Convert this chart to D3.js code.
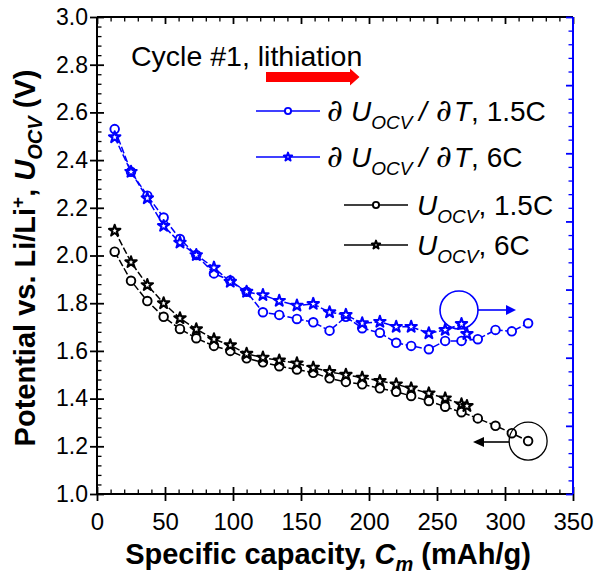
<!DOCTYPE html>
<html><head><meta charset="utf-8">
<script src="https://cdn.jsdelivr.net/npm/d3@7"></script>
<style>html,body{margin:0;padding:0;background:#fff;}svg{display:block;}</style>
</head><body>
<svg id="chart" width="596" height="578"></svg>
<script>
// ---- data ----
const capacity15 = [13,25,37,49,61,73,86,98,110,122,134,147,159,171,183,195,208,220,231,244,256,268,280,293,305,317];
const capacity6  = [13,25,37,49,61,73,86,98,110,122,134,147,159,171,183,195,208,220,231,244,256,268,272];
const dUdT_15 = [2.530,2.351,2.251,2.159,2.069,2.002,1.925,1.895,1.848,1.762,1.751,1.734,1.720,1.685,1.743,1.695,1.676,1.634,1.621,1.607,1.642,1.642,1.649,1.688,1.682,1.716];
const dUdT_6  = [2.496,2.351,2.240,2.124,2.054,2.002,1.949,1.890,1.848,1.834,1.810,1.790,1.797,1.762,1.751,1.716,1.722,1.701,1.701,1.674,1.688,1.713,1.671];
const Uocv_15 = [2.016,1.894,1.809,1.743,1.692,1.653,1.621,1.600,1.569,1.552,1.536,1.522,1.508,1.485,1.470,1.460,1.443,1.429,1.411,1.390,1.366,1.343,1.317,1.286,1.255,1.222];
const Uocv_6  = [2.104,1.972,1.876,1.800,1.737,1.691,1.649,1.624,1.588,1.572,1.560,1.548,1.530,1.512,1.500,1.488,1.474,1.460,1.443,1.422,1.401,1.376,1.369];
const xTicks = [0,50,100,150,200,250,300,350];
const yTicks = [1.0,1.2,1.4,1.6,1.8,2.0,2.2,2.4,2.6,2.8,3.0];
const legendLabels = ["1.5C","6C","1.5C","6C"];
const noteText = "Cycle #1, lithiation";

const BLUE = "#0000ff", BLACK = "#000000", RED = "#ff0000";
const FONT = "'Liberation Sans', Arial, sans-serif";
const SERIF = "'DejaVu Serif', serif";

const svg = d3.select("#chart");
const L = 97, R = 573, T = 17, B = 494;
const x = d3.scaleLinear().domain([0,350]).range([L,R]);
const y = d3.scaleLinear().domain([1,3]).range([B,T]);
const yR = d3.scaleLinear().domain([0,7]).range([B,T]);

// ---- axes ----
const gx = svg.append("g").attr("transform",`translate(0,${B})`);
gx.call(d3.axisBottom(x).tickValues(d3.range(0,351,10)).tickSize(0).tickFormat(""));
gx.select(".domain").remove();
gx.append("line").attr("x1",L).attr("x2",R).attr("stroke",BLACK).attr("stroke-width",2);
gx.selectAll(".tick").each(function(d){
  const major = d % 50 === 0;
  d3.select(this).append("line").attr("y1", major?7:0).attr("y2", major?-7:-4.5).attr("stroke",BLACK).attr("stroke-width",major?1.8:1.3);
});
const gxl = svg.append("g").attr("transform",`translate(0,${B})`)
  .call(d3.axisBottom(x).tickValues(xTicks).tickSize(0).tickPadding(19));
gxl.select(".domain").remove();
gxl.selectAll("text").attr("font-family",FONT).attr("font-size",24).attr("fill",BLACK);

// top axis
const gt = svg.append("g").attr("transform",`translate(0,${T})`);
gt.call(d3.axisTop(x).tickValues(d3.range(0,351,10)).tickSize(0).tickFormat(""));
gt.select(".domain").remove();
gt.append("line").attr("x1",L).attr("x2",R).attr("stroke",BLACK).attr("stroke-width",1.8);
gt.selectAll(".tick").each(function(d){
  const major = d % 50 === 0;
  d3.select(this).append("line").attr("y1",0).attr("y2", major?7:4.5).attr("stroke",BLACK).attr("stroke-width",major?1.8:1.3);
});

// left axis
const gy = svg.append("g").attr("transform",`translate(${L},0)`);
gy.call(d3.axisLeft(y).tickValues(d3.range(0,51).map(i=>1+i*0.04)).tickSize(0).tickFormat(""));
gy.select(".domain").remove();
gy.append("line").attr("y1",T).attr("y2",B).attr("stroke",BLACK).attr("stroke-width",2);
gy.selectAll(".tick").each(function(d,i){
  const major = i % 5 === 0;
  d3.select(this).append("line").attr("x1", major?-7:0).attr("x2", major?7:4.5).attr("stroke",BLACK).attr("stroke-width",major?1.8:1.3);
});
const gyl = svg.append("g").attr("transform",`translate(${L},0)`)
  .call(d3.axisLeft(y).tickValues(yTicks).tickSize(0).tickPadding(9).tickFormat(d3.format(".1f")));
gyl.select(".domain").remove();
gyl.selectAll("text").attr("font-family",FONT).attr("font-size",23).attr("fill",BLACK);

// right axis (blue)
const gr = svg.append("g").attr("transform",`translate(${R},0)`);
gr.call(d3.axisRight(yR).tickValues(d3.range(0,36).map(i=>i*0.2)).tickSize(0).tickFormat(""));
gr.select(".domain").remove();
gr.append("line").attr("y1",T).attr("y2",B).attr("stroke",BLUE).attr("stroke-width",2);
gr.selectAll(".tick").each(function(d,i){
  const major = i % 5 === 0;
  d3.select(this).append("line").attr("x1",0).attr("x2", major?-7:-4.5).attr("stroke",BLUE).attr("stroke-width",major?1.8:1.3);
});

// ---- axis titles ----
const xt = svg.append("text").attr("x",328).attr("y",564).attr("text-anchor","middle")
  .attr("font-family",FONT).attr("font-size",29).attr("font-weight","bold");
xt.append("tspan").text("Specific capacity, ");
xt.append("tspan").attr("font-style","italic").text("C");
xt.append("tspan").attr("font-style","italic").attr("font-size",20).attr("dy",7).text("m");
xt.append("tspan").attr("dy",-7).text(" (mAh/g)");

const yt = svg.append("text").attr("transform","translate(35,258) rotate(-90)").attr("text-anchor","middle")
  .attr("font-family",FONT).attr("font-size",29).attr("font-weight","bold");
yt.append("tspan").text("Potential vs. Li/Li");
yt.append("tspan").attr("font-size",19).attr("dy",-11).text("+");
yt.append("tspan").attr("dy",11).text(", ");
yt.append("tspan").attr("font-style","italic").text("U");
yt.append("tspan").attr("font-style","italic").attr("font-size",20).attr("dy",7).text("OCV");
yt.append("tspan").attr("dy",-7).text(" (V)");

// ---- series ----
const series = [
  {xs:capacity15, ys:dUdT_15, color:BLUE, sym:"circle"},
  {xs:capacity6,  ys:dUdT_6,  color:BLUE, sym:"star"},
  {xs:capacity15, ys:Uocv_15, color:BLACK, sym:"circle"},
  {xs:capacity6,  ys:Uocv_6,  color:BLACK, sym:"star"}
];
const line = d3.line().x(d=>x(d[0])).y(d=>y(d[1]));
const starPath = d3.symbol().type(d3.symbolStar).size(40)();
function marker(g, sym, color, cx, cy, scale){
  if(sym==="circle"){
    g.append("circle").attr("cx",cx).attr("cy",cy).attr("r",4.3*scale)
      .attr("fill","#fff").attr("stroke",color).attr("stroke-width",1.9);
  } else {
    g.append("path").attr("d",starPath).attr("transform",`translate(${cx},${cy}) scale(${scale})`)
      .attr("fill","#fff").attr("stroke",color).attr("stroke-width",2.1/scale).attr("stroke-linejoin","round");
  }
}
series.forEach(s=>{
  const pts = s.xs.map((v,i)=>[v,s.ys[i]]);
  svg.append("path").attr("d",line(pts)).attr("fill","none").attr("stroke",s.color)
    .attr("stroke-width",1.5).attr("stroke-dasharray","7,2.5");
});
series.forEach(s=>{
  const g = svg.append("g");
  s.xs.forEach((v,i)=>marker(g, s.sym, s.color, x(v), y(s.ys[i]), 1));
});

// ---- annotations ----
svg.append("text").attr("x",131).attr("y",66).attr("font-family",FONT).attr("font-size",28.5).text(noteText);
svg.append("path").attr("d","M266,72 L350,72 L350,68.5 L359.5,77 L350,85.5 L350,82 L266,82 Z").attr("fill",RED);

// blue circle + arrow to right
svg.append("circle").attr("cx",459).attr("cy",310).attr("r",19).attr("fill","none").attr("stroke",BLUE).attr("stroke-width",1.6);
svg.append("line").attr("x1",478).attr("y1",310).attr("x2",507).attr("y2",310).attr("stroke",BLUE).attr("stroke-width",1.6);
svg.append("path").attr("d","M506,305 L516,310 L506,315 Z").attr("fill",BLUE);
// black circle + arrow to left
svg.append("circle").attr("cx",x(317)).attr("cy",y(1.222)).attr("r",19).attr("fill","none").attr("stroke",BLACK).attr("stroke-width",1.3);
svg.append("line").attr("x1",x(317)-19).attr("y1",442).attr("x2",483).attr("y2",442).attr("stroke",BLACK).attr("stroke-width",1.6);
svg.append("path").attr("d","M484,437 L473,442 L484,447 Z").attr("fill",BLACK);

// ---- legend ----
const legend = [
  {x1:256, y:111, color:BLUE, sym:"circle", deriv:true, lab:legendLabels[0]},
  {x1:256, y:157, color:BLUE, sym:"star", deriv:true, lab:legendLabels[1]},
  {x1:344, y:205, color:BLACK, sym:"circle", deriv:false, lab:legendLabels[2]},
  {x1:344, y:245, color:BLACK, sym:"star", deriv:false, lab:legendLabels[3]}
];
legend.forEach(e=>{
  const g = svg.append("g");
  g.append("line").attr("x1",e.x1).attr("x2",e.x1+64).attr("y1",e.y).attr("y2",e.y).attr("stroke",e.color).attr("stroke-width",1.6);
  marker(g, e.sym, e.color, e.x1+32, e.y, 0.72);
  const ty = e.y + 10;
  const t = g.append("text").attr("y",ty).attr("font-family",FONT).attr("font-size",28).attr("fill",BLACK);
  if(e.deriv){
    t.append("tspan").attr("x",327).attr("font-family",SERIF).attr("font-style","italic").attr("font-size",31).text("\u2202");
    t.append("tspan").attr("x",351).attr("font-style","italic").text("U");
    t.append("tspan").attr("font-style","italic").attr("font-size",19).attr("dy",8).text("OCV");
    t.append("tspan").attr("x",419).attr("dy",-8).attr("font-style","italic").text("/");
    t.append("tspan").attr("x",436).attr("font-family",SERIF).attr("font-style","italic").attr("font-size",31).text("\u2202");
    t.append("tspan").attr("x",454).attr("font-style","italic").text("T");
    t.append("tspan").text(", "+e.lab);
  } else {
    t.append("tspan").attr("x",417).attr("font-style","italic").text("U");
    t.append("tspan").attr("font-style","italic").attr("font-size",19).attr("dy",8).text("OCV");
    t.append("tspan").attr("dy",-8).text(", "+e.lab);
  }
});
</script>
</body></html>
